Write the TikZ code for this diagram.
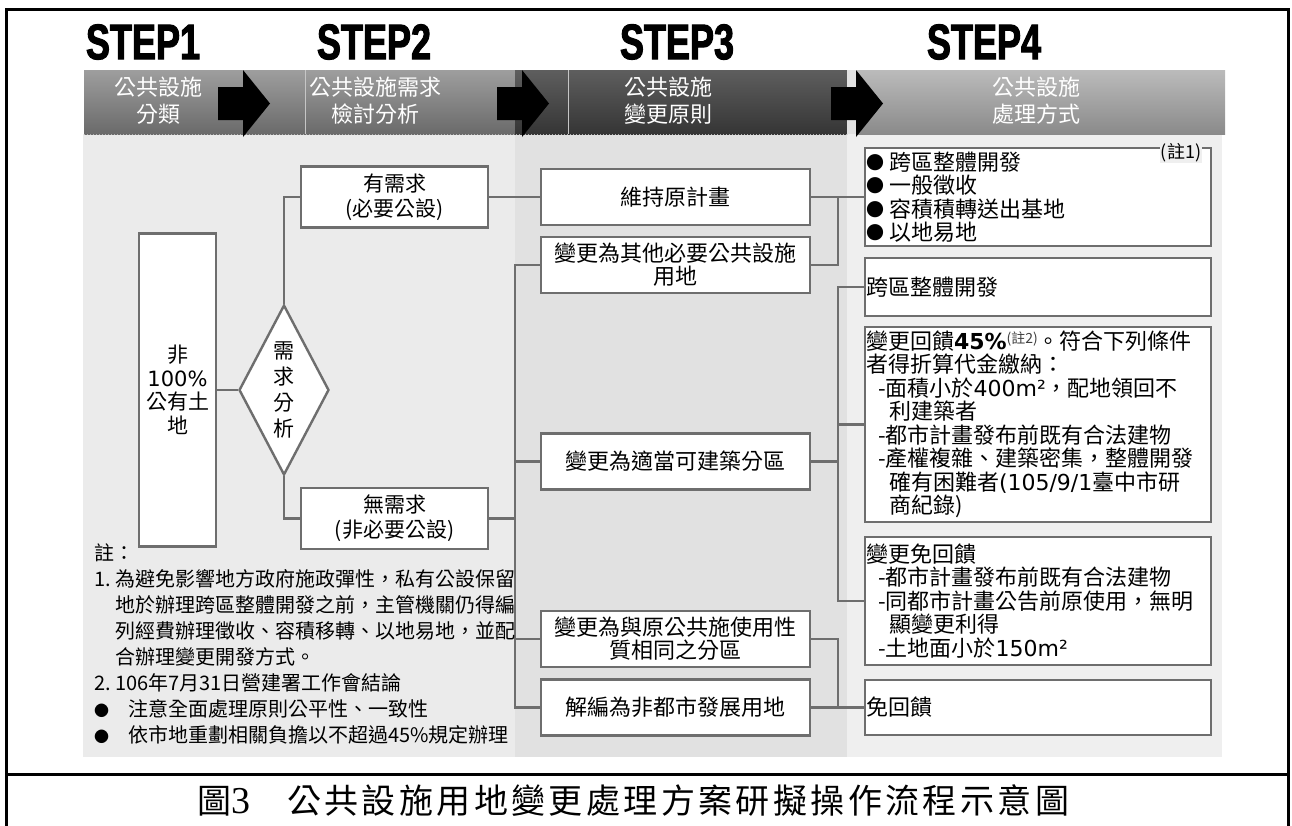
\documentclass[tikz,border=0pt]{standalone}
\usepackage{fontspec}
\usepackage{xcolor}
\usepackage{tikz}
\setmainfont{Noto Sans CJK TC}
\newfontfamily\verd{DejaVu Sans}
\newfontfamily\stepfont[FakeStretch=0.72, BoldFeatures={FakeBold=2}]{Liberation Sans}
\newfontfamily\capfont[LetterSpace=10]{Noto Sans CJK TC}
\newfontfamily\capdigit{Liberation Serif}
\definecolor{linegray}{HTML}{6E6E6E}
\definecolor{panelA}{HTML}{EBEBEB}
\definecolor{panelB}{HTML}{E1E1E1}
\definecolor{panelC}{HTML}{EFEFEF}
\definecolor{hdrtop}{HTML}{9E9E9E}
\definecolor{hdrbot}{HTML}{6A6A6A}
\definecolor{darktop}{HTML}{5E5E5E}
\definecolor{darkbot}{HTML}{353535}
\definecolor{lighttop}{HTML}{BBBBBB}
\definecolor{lightbot}{HTML}{8A8A8A}
\usetikzlibrary{shapes.geometric}

\begin{document}
\begin{tikzpicture}[x=1pt, y=-1pt,
	conn/.style={draw=linegray, line width=2.4pt},
	box/.style={draw=linegray, line width=2.4pt, fill=white, inner sep=1pt, align=center, font=\fontsize{22}{23}\selectfont},
	midbox/.style={box, minimum width=269pt, minimum height=56pt},
	optbox/.style={box, align=left, text width=344pt, font=\fontsize{22}{23.5}\selectfont},
	hdrtxt/.style={text=white, align=center, font=\fontsize{22}{27}\selectfont},
	steplabel/.style={font=\stepfont\bfseries\fontsize{50}{50}\selectfont, inner sep=0pt}]
	\useasboundingbox (0,0) rectangle (1292,825);
	\clip (0,0) rectangle (1292,825);
	
	% panels and header bars
	\fill[panelA] (83,134) rectangle (515,757);
	\fill[panelB] (515,134) rectangle (847,757);
	\fill[panelC] (847,134) rectangle (1222,757);
	\shade[top color=hdrtop, bottom color=hdrbot] (84,70) rectangle (515,134);
	\shade[top color=darktop, bottom color=darkbot] (515,70) rectangle (847,134);
	\fill[panelB] (847,70) rectangle (857,134);
	\shade[top color=lighttop, bottom color=lightbot] (857,70) rectangle (1225,134);
	\draw[gray!45, line width=1pt] (305,70) -- (305,134);
	\draw[gray!45, line width=1pt] (568,70) -- (568,134);
	\draw[gray!60, dotted, line width=1pt] (84,134) -- (847,134);
	\foreach \ax in {218, 497, 831} {
		\fill[black] (\ax,87) -- ++(25,0) -- ++(0,-17) -- ++(27,33.5) -- ++(-27,33.5) -- ++(0,-17) -- ++(-25,0) -- cycle;
	}
	
	\node[steplabel] (s1) at (143,42) {STEP1};
	\node[steplabel] (s2) at (374,42) {STEP2};
	\node[steplabel] (s3) at (677,42) {STEP3};
	\node[steplabel] (s4) at (984,42) {STEP4};
	
	\node[hdrtxt] (h1) at (158,101) {公共設施\\分類};
	\node[hdrtxt] (h2) at (375,101) {公共設施需求\\檢討分析};
	\node[hdrtxt] (h3) at (668,101) {公共設施\\變更原則};
	\node[hdrtxt] (h4) at (1036,101) {公共設施\\處理方式};
	
	% step 1 and 2
	\node[box, minimum width=77pt, minimum height=313pt, font=\fontsize{21}{23.5}\selectfont] (land) at (177.5,390) {非\\{\verd 100\%}\\公有土\\地};
	\node[diamond, draw=linegray, line width=2.4pt, fill=white, minimum width=90pt, minimum height=170pt, inner sep=0pt] (dia) at (284,390) {};
	\node[align=center, font=\fontsize{21}{26}\selectfont] (diatxt) at (dia.center) {需\\求\\分\\析};
	\node[box, minimum width=187pt, minimum height=61pt, font=\fontsize{21}{25}\selectfont] (need) at (394.5,197) {有需求\\(必要公設)};
	\node[box, minimum width=187pt, minimum height=61pt, font=\fontsize{21}{25}\selectfont] (noneed) at (394.5,518.5) {無需求\\(非必要公設)};
	
	% step 3
	\node[midbox] (keep) at (675.5,197) {維持原計畫};
	\node[midbox] (other) at (675.5,265) {變更為其他必要公共設施\\用地};
	\node[midbox] (build) at (675.5,461.5) {變更為適當可建築分區};
	\node[midbox] (same) at (675.5,639) {變更為與原公共施使用性\\質相同之分區};
	\node[midbox] (rel) at (675.5,707.5) {解編為非都市發展用地};
	
	% step 4
	\node[optbox, minimum height=98pt] (optA) at (1038,197) {\makebox[23pt][l]{\raisebox{1pt}{\fontsize{18}{18}\selectfont ●}}跨區整體開發\\\makebox[23pt][l]{\raisebox{1pt}{\fontsize{18}{18}\selectfont ●}}一般徵收\\\makebox[23pt][l]{\raisebox{1pt}{\fontsize{18}{18}\selectfont ●}}容積積轉送出基地\\\makebox[23pt][l]{\raisebox{1pt}{\fontsize{18}{18}\selectfont ●}}以地易地};
	\node[font=\fontsize{18}{18}\selectfont, fill=panelC, inner sep=1pt] (note1) at (1181,153) {(註1)};
	\node[optbox, minimum height=58pt] (optB) at (1038,287) {跨區整體開發};
	\node[optbox, minimum height=195pt] (optC) at (1038,424.5) {變更回饋{\verd\bfseries 45\%}\raisebox{6pt}{\fontsize{14}{14}\selectfont\color{darkgray}(註2)}。符合下列條件\\
		者得折算代金繳納：\\
		\hspace*{12pt}-面積小於{\verd 400m²}，配地領回不\\
		\hspace*{23pt}利建築者\\
		\hspace*{12pt}-都市計畫發布前既有合法建物\\
		\hspace*{12pt}-產權複雜、建築密集，整體開發\\
		\hspace*{23pt}確有困難者{\verd (105/9/1}臺中市研\\
		\hspace*{23pt}商紀錄)};
	\node[optbox, minimum height=128pt] (optD) at (1038,601) {變更免回饋\\
		\hspace*{12pt}-都市計畫發布前既有合法建物\\
		\hspace*{12pt}-同都市計畫公告前原使用，無明\\
		\hspace*{23pt}顯變更利得\\
		\hspace*{12pt}-土地面小於{\verd 150m²}};
	\node[optbox, minimum height=55pt] (optE) at (1038,707.5) {免回饋};
	
	\coordinate (j1) at (515,0);
	\coordinate (j2) at (838,0);
	
	\draw[conn] (land.east) -- (dia.west);
	\draw[conn] (dia.north) |- (need.west);
	\draw[conn] (dia.south) |- (noneed.west);
	\draw[conn] (need.east) -- (keep.west);
	\draw[conn] (noneed.east) -- (noneed.east -| j1);
	\draw[conn] (other.west) -| (j1 |- rel.west) -- (rel.west);
	\draw[conn] (build.west) -- (build.west -| j1);
	\draw[conn] (same.west) -- (same.west -| j1);
	\draw[conn] (keep.east) -- (optA.west);
	\draw[conn] (other.east) -| (j2 |- keep.east);
	\draw[conn] (optB.west) -| (j2 |- optD.west) -- (optD.west);
	\draw[conn] (build.east) -- (build.east -| j2);
	\draw[conn] (optC.west) -- (optC.west -| j2);
	\draw[conn] (same.east) -| (j2 |- rel.east);
	\draw[conn] (rel.east) -- (optE.west);
	
	% notes
	\node[anchor=north west, align=left, inner sep=0pt, font=\fontsize{20}{26}\selectfont] (notes) at (94,544) {註：\\
		\makebox[21pt][l]{1.}為避免影響地方政府施政彈性，私有公設保留\\
		\hspace*{21pt}地於辦理跨區整體開發之前，主管機關仍得編\\
		\hspace*{21pt}列經費辦理徵收、容積移轉、以地易地，並配\\
		\hspace*{21pt}合辦理變更開發方式。\\
		\makebox[21pt][l]{2.}106年7月31日營建署工作會結論\\
		\makebox[34pt][l]{\fontsize{15}{15}\selectfont ●}注意全面處理原則公平性、一致性\\
		\makebox[34pt][l]{\fontsize{15}{15}\selectfont ●}依市地重劃相關負擔以不超過45\%規定辦理};
	
	% frame and caption
	\draw[line width=3pt] (6,850) -- (6,9) -- (1288,9) -- (1288,850);
	\draw[line width=3pt] (6,774) -- (1288,774);
	\node[anchor=west, inner sep=0pt, font=\capfont\fontsize{34}{34}\selectfont] (caption) at (197,801) {\makebox[90pt][l]{圖{\capdigit\fontsize{38}{38}\selectfont 3}}公共設施用地變更處理方案研擬操作流程示意圖};
\end{tikzpicture}
\end{document}
